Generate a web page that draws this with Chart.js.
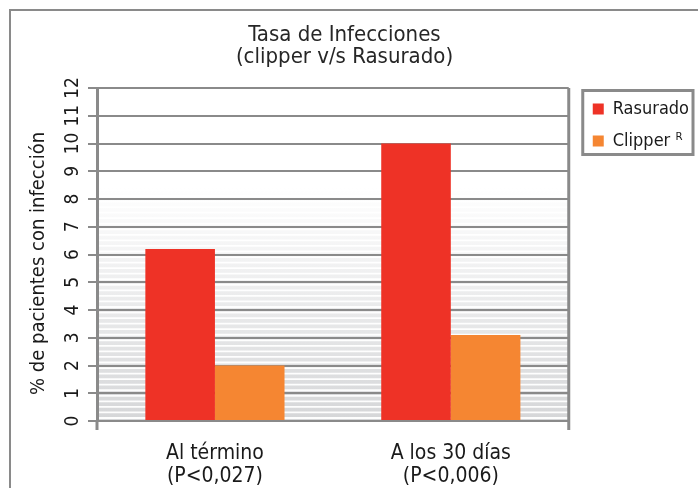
<!DOCTYPE html>
<html>
<head>
<meta charset="utf-8">
<script src="https://cdn.jsdelivr.net/npm/chart.js@4.4.0/dist/chart.umd.min.js"></script>
<style>
    html, body { margin: 0; padding: 0; background: #fff; }
</style>
</head>
<body>
<canvas id="chart" width="698" height="488"></canvas>
<script>
// datos
var categories = [['Al término', '(P<0,027)'], ['A los 30 días', '(P<0,006)']];
var series_names = ['Rasurado', 'Clipper ᴿ'];
var rasurado = [6.2, 10.0];
var clipper = [2.0, 3.1];
var y_ticks = [0, 1, 2, 3, 4, 5, 6, 7, 8, 9, 10, 11, 12];

var FONT = "'Liberation Sans Narrow', 'DejaVu Sans Condensed', sans-serif";
var GREY = '#8a8a8a';

// marco exterior, fondo rayado del area y marco de la leyenda
var frame_plugin = {
    id: 'frame',
    afterLayout: function (chart) {
        var lg = chart.legend, a = chart.chartArea;
        var dx = a.right + 10 - lg.left;
        var dy = a.top - 2 - lg.top;
        lg.left += dx;
        lg.right += dx;
        lg.top += dy;
        lg.bottom += dy;
    },
    beforeDraw: function (chart) {
        var ctx = chart.ctx, a = chart.chartArea;
        ctx.save();
        ctx.strokeStyle = GREY;
        ctx.lineWidth = 2;
        ctx.strokeRect(10, 10, chart.width, chart.height);

        var ytop = chart.scales.y.getPixelForValue(8.4);
        var g = ctx.createLinearGradient(0, ytop, 0, a.bottom);
        g.addColorStop(0, '#ffffff');
        g.addColorStop(1, '#d5d6d8');
        ctx.fillStyle = g;
        ctx.fillRect(a.left, ytop, a.right - a.left, a.bottom - ytop);
        ctx.strokeStyle = 'rgba(255,255,255,0.95)';
        ctx.lineWidth = 1.8;
        for (var y = a.bottom - 3; y > ytop; y -= 5.55) {
            ctx.beginPath();
            ctx.moveTo(a.left, y);
            ctx.lineTo(a.right, y);
            ctx.stroke();
        }
        ctx.restore();
    },
    afterDraw: function (chart) {
        var ctx = chart.ctx, a = chart.chartArea;
        ctx.save();
        ctx.strokeStyle = GREY;
        // borde derecho del area y marcas bajo el eje
        ctx.lineWidth = 3;
        ctx.beginPath();
        ctx.moveTo(a.right, a.top);
        ctx.lineTo(a.right, a.bottom + 9);
        ctx.stroke();
        ctx.beginPath();
        ctx.moveTo(a.left, a.bottom);
        ctx.lineTo(a.left, a.bottom + 9);
        ctx.stroke();
        // marco de la leyenda
        var hb = chart.legend.legendHitBoxes;
        var first = hb[0], last = hb[hb.length - 1];
        var l = first.left, r = 0;
        hb.forEach(function (h) {
            l = Math.min(l, h.left);
            r = Math.max(r, h.left + h.width);
        });
        var t = first.top + first.height / 2 - 18.5;
        var b = last.top + last.height / 2 + 13.5;
        ctx.lineWidth = 3;
        ctx.strokeRect(l - 10, t, r - l + 14, b - t);
        ctx.restore();
    }
};

var ctx = document.getElementById('chart').getContext('2d');
var chart = new Chart(ctx, {
    type: 'bar',
    data: {
        labels: categories,
        datasets: [{
            label: series_names[0],
            data: rasurado,
            backgroundColor: '#ee3226'
        }, {
            label: series_names[1],
            data: clipper,
            backgroundColor: '#f58632'
        }]
    },
    options: {
        responsive: false,
        animation: false,
        layout: { padding: { left: 0, right: 9, top: 0, bottom: 0 }, autoPadding: false },
        datasets: { bar: { categoryPercentage: 0.59, barPercentage: 1.0 } },
        plugins: {
            title: {
                display: true,
                text: ['Tasa de Infecciones', '(clipper v/s Rasurado)'],
                color: '#262626',
                font: { family: FONT, size: 22, weight: 'normal', lineHeight: 1.0 },
                padding: { top: 24, bottom: 20 }
            },
            legend: {
                position: 'right',
                align: 'start',
                labels: {
                    color: '#1a1a1a',
                    font: { family: FONT, size: 18 },
                    boxWidth: 11,
                    boxHeight: 11,
                    padding: 14
                }
            },
            tooltip: { enabled: false }
        },
        scales: {
            x: {
                grid: { display: false },
                border: { display: true, color: GREY, width: 2 },
                ticks: {
                    color: '#1a1a1a',
                    font: { family: FONT, size: 21, lineHeight: 1.05 },
                    padding: 14
                },
                afterFit: function (s) { s.height = 67; }
            },
            y: {
                min: 0,
                max: 12,
                afterBuildTicks: function (s) {
                    s.ticks = y_ticks.map(function (v) { return { value: v }; });
                },
                grid: { color: GREY, lineWidth: 2, tickLength: 9, tickColor: GREY },
                border: { display: true, color: GREY, width: 3 },
                ticks: {
                    color: '#1a1a1a',
                    font: { family: FONT, size: 19 },
                    minRotation: 90,
                    maxRotation: 90,
                    crossAlign: 'center',
                    padding: 4
                },
                title: {
                    display: true,
                    text: '% de pacientes con infección\u2002\u2002',
                    color: '#1a1a1a',
                    font: { family: FONT, size: 20 },
                    padding: { top: 27, bottom: 0 }
                },
                afterFit: function (s) { s.width = 97; }
            }
        }
    },
    plugins: [frame_plugin]
});
</script>
</body>
</html>
